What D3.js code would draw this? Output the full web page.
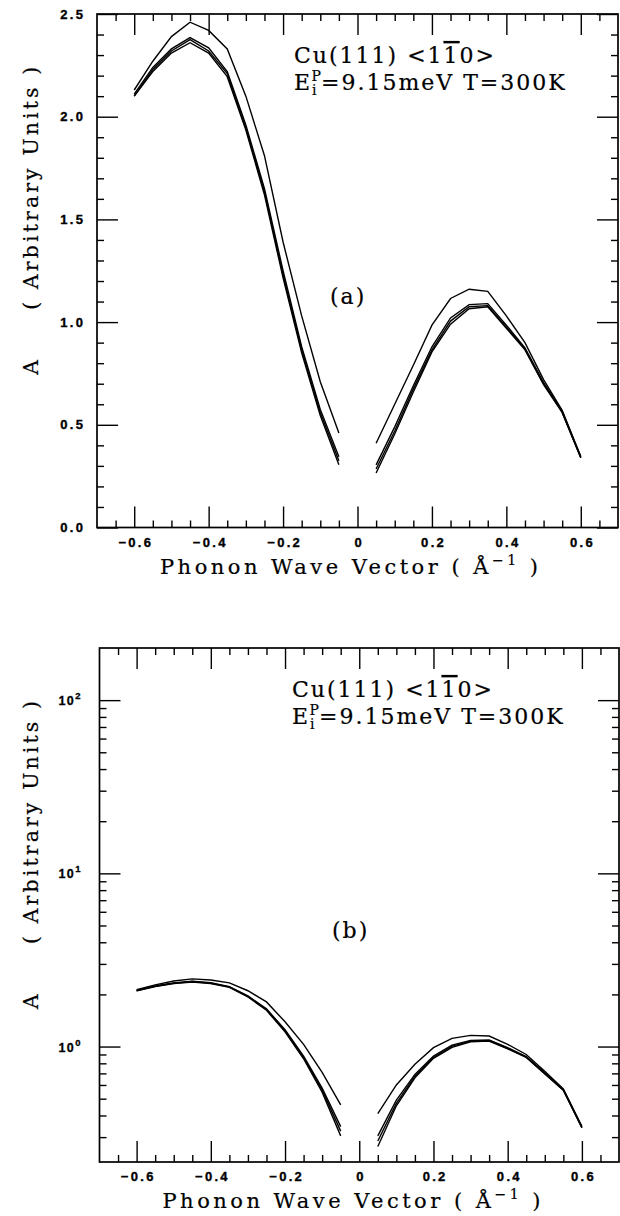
<!DOCTYPE html>
<html>
<head>
<meta charset="utf-8">
<script src="https://cdn.jsdelivr.net/npm/d3@7"></script>
<style>
  body { margin: 0; background: #fff; }
  svg { display: block; background: #fff; }
</style>
</head>
<body>
<svg id="chart" width="620" height="1216"></svg>
<script>
// phonon wave vector (1/A), both branches
var qLeft  = [-0.6, -0.55, -0.5, -0.45, -0.4, -0.35, -0.3, -0.25, -0.2, -0.15, -0.1, -0.05];
var qRight = [0.05, 0.1, 0.15, 0.2, 0.25, 0.3, 0.35, 0.4, 0.45, 0.5, 0.55, 0.6];

// amplitude A (arbitrary units): one upper curve, three nearly overlapping ones
var curve1Left  = [2.13, 2.27, 2.39, 2.46, 2.42, 2.33, 2.10, 1.81, 1.39, 1.03, 0.71, 0.46];
var curve2Left  = [2.11, 2.24, 2.33, 2.385, 2.335, 2.22, 1.96, 1.65, 1.25, 0.88, 0.575, 0.345];
var curve3Left  = [2.10, 2.23, 2.32, 2.375, 2.32, 2.21, 1.945, 1.635, 1.23, 0.865, 0.56, 0.325];
var curve4Left  = [2.10, 2.22, 2.31, 2.36, 2.31, 2.195, 1.935, 1.62, 1.215, 0.85, 0.545, 0.305];

var curve1Right = [0.41, 0.60, 0.79, 0.985, 1.115, 1.16, 1.15, 1.03, 0.90, 0.72, 0.57, 0.345];
var curve2Right = [0.305, 0.49, 0.69, 0.88, 1.02, 1.085, 1.09, 0.985, 0.875, 0.705, 0.565, 0.345];
var curve3Right = [0.285, 0.47, 0.675, 0.865, 1.005, 1.075, 1.08, 0.975, 0.87, 0.70, 0.56, 0.34];
var curve4Right = [0.265, 0.455, 0.66, 0.855, 0.99, 1.065, 1.075, 0.97, 0.865, 0.695, 0.56, 0.34];

var xMajor = [-0.6, -0.4, -0.2, 0, 0.2, 0.4, 0.6];
var xMinor = d3.range(-13, 14).map(i => i * 0.05);
var yMajorLin = [0, 0.5, 1, 1.5, 2, 2.5];
var yMinorLin = d3.range(0, 26).map(i => i / 10);
var yMajorLog = [1, 10, 100];
var yMinorLog = [0.3, 0.4, 0.5, 0.6, 0.7, 0.8, 0.9, 2, 3, 4, 5, 6, 7, 8, 9, 20, 30, 40, 50, 60, 70, 80, 90];

var svg = d3.select("#chart");
var serif = "'DejaVu Serif', serif";
var sans = "'Liberation Sans', Arial, sans-serif";
var tickLs = 2.3;

var curves = [
    [curve1Left, curve1Right],
    [curve2Left, curve2Right],
    [curve3Left, curve3Right],
    [curve4Left, curve4Right]
];

// stretch a text to a given visible width with letter spacing
function spread(sel, width) {
    var w = sel.node().getComputedTextLength();
    var n = sel.text().length;
    sel.attr("letter-spacing", ((width - w) / (n - 1)).toFixed(2));
}

function styleTicks(g) {
    g.select(".domain").remove();
    g.selectAll("line").attr("stroke", "#000").attr("stroke-width", 1.4);
    g.selectAll("text").attr("font-family", sans).attr("font-weight", "bold")
        .attr("font-size", 13).attr("letter-spacing", tickLs).attr("fill", "#000")
        .attr("stroke", "#000").attr("stroke-width", 0.35);
}

function drawPanel(x, y, isLog, label, txt) {
    var xl = x.range()[0], xr = x.range()[1];
    var yb = y.range()[0], yt = y.range()[1];
    var g = svg.append("g");
    var fmtX = d => d === 0 ? "0" : d3.format(".1f")(d);
    var minorX = xMinor.filter(v => !xMajor.some(m => Math.abs(m - v) < 1e-6));

    // bottom / top
    g.append("g").attr("transform", "translate(0," + yb + ")")
        .call(d3.axisBottom(x).tickValues(xMajor).tickSize(-21).tickPadding(10).tickFormat(fmtX))
        .call(styleTicks)
        .selectAll("text").attr("dx", tickLs / 2);
    g.append("g").attr("transform", "translate(0," + yb + ")")
        .call(d3.axisBottom(x).tickValues(minorX).tickSize(-7).tickFormat(""))
        .call(styleTicks);
    g.append("g").attr("transform", "translate(0," + yt + ")")
        .call(d3.axisTop(x).tickValues(xMajor).tickSize(-21).tickFormat(""))
        .call(styleTicks);
    g.append("g").attr("transform", "translate(0," + yt + ")")
        .call(d3.axisTop(x).tickValues(minorX).tickSize(-7).tickFormat(""))
        .call(styleTicks);

    // left / right
    var major = isLog ? yMajorLog : yMajorLin;
    var minor = isLog ? yMinorLog : yMinorLin.filter(v => !yMajorLin.some(m => Math.abs(m - v) < 1e-6));
    g.append("g").attr("transform", "translate(" + xl + ",0)")
        .call(d3.axisLeft(y).tickValues(major).tickSize(-21).tickPadding(14 - tickLs)
            .tickFormat(isLog ? "" : d3.format(".1f")))
        .call(styleTicks);
    g.append("g").attr("transform", "translate(" + xl + ",0)")
        .call(d3.axisLeft(y).tickValues(minor).tickSize(-7).tickFormat(""))
        .call(styleTicks);
    g.append("g").attr("transform", "translate(" + xr + ",0)")
        .call(d3.axisRight(y).tickValues(major).tickSize(-21).tickFormat(""))
        .call(styleTicks);
    g.append("g").attr("transform", "translate(" + xr + ",0)")
        .call(d3.axisRight(y).tickValues(minor).tickSize(-7).tickFormat(""))
        .call(styleTicks);

    if (isLog) {
        var lab = g.append("g").selectAll("text").data(major).join("text")
            .attr("x", xl - 30).attr("y", d => y(d) + 5)
            .attr("font-family", sans).attr("font-weight", "bold").attr("font-size", 12.5)
            .attr("stroke", "#000").attr("stroke-width", 0.3)
            .attr("letter-spacing", 1.5).attr("text-anchor", "middle");
        lab.append("tspan").text("10");
        lab.append("tspan").attr("dy", -6).attr("font-size", 9.5).attr("letter-spacing", 0)
            .text(d => Math.round(Math.log10(d)));
    }

    // frame
    g.append("rect").attr("x", xl).attr("y", yt).attr("width", xr - xl).attr("height", yb - yt)
        .attr("fill", "none").attr("stroke", "#000").attr("stroke-width", 1.7);

    // curves
    var line = d3.line().x(d => x(d[0])).y(d => y(d[1]));
    curves.forEach(c => {
        g.append("path").datum(qLeft.map((q, i) => [q, c[0][i]]))
            .attr("d", line).attr("fill", "none").attr("stroke", "#000").attr("stroke-width", 1.4);
        g.append("path").datum(qRight.map((q, i) => [q, c[1][i]]))
            .attr("d", line).attr("fill", "none").attr("stroke", "#000").attr("stroke-width", 1.4);
    });

    // annotation
    var t1 = g.append("text").attr("x", txt[0]).attr("y", yt + 49)
        .attr("font-family", serif).attr("font-size", 22).attr("letter-spacing", 2)
        .attr("stroke", "#000").attr("stroke-width", 0.2);
    t1.append("tspan").text("Cu(111) <1");
    t1.append("tspan").style("text-decoration", "overline").text("1");
    t1.append("tspan").text("0>");

    var t2 = g.append("text").attr("x", txt[0]).attr("y", yt + 76)
        .attr("font-family", serif).attr("font-size", 22).attr("letter-spacing", 2)
        .attr("stroke", "#000").attr("stroke-width", 0.2);
    t2.append("tspan").text("E");
    t2.append("tspan").attr("font-size", 14).attr("letter-spacing", 0).attr("dy", 5).text("i");
    t2.append("tspan").attr("font-size", 14).attr("letter-spacing", 0).attr("dx", -5).attr("dy", -14).text("P");
    t2.append("tspan").attr("dy", 9).attr("dx", 0).text("=9.15meV T=300K");

    g.append("text").attr("x", txt[1]).attr("y", yt + 290)
        .attr("font-family", serif).attr("font-size", 22).attr("letter-spacing", 2)
        .attr("stroke", "#000").attr("stroke-width", 0.2)
        .text(label);

    // axis titles
    var xt = g.append("text").attr("x", xl + 63).attr("y", yb + 46)
        .attr("font-family", serif).attr("font-size", 21)
        .attr("stroke", "#000").attr("stroke-width", 0.2);
    xt.append("tspan").text("Phonon Wave Vector ( Å");
    xt.append("tspan").attr("font-size", 14).attr("dy", -9).text("−1");
    xt.append("tspan").attr("dy", 9).text(" )");
    spread(xt, 378);

    var cy = (yt + yb) / 2;
    g.append("text").attr("transform", "translate(38," + (cy + 104) + ") rotate(-90)")
        .attr("font-family", serif).attr("font-size", 20.5)
        .attr("stroke", "#000").attr("stroke-width", 0.2).text("A");
    var yt2 = g.append("text").attr("transform", "translate(38," + (cy + 39) + ") rotate(-90)")
        .attr("font-family", serif).attr("font-size", 20.5)
        .attr("stroke", "#000").attr("stroke-width", 0.2).text("( Arbitrary Units )");
    spread(yt2, 243);
}

var xA = d3.scaleLinear().domain([-0.7, 0.7]).range([97, 618]);
var yA = d3.scaleLinear().domain([0, 2.5]).range([527.5, 14]);
drawPanel(xA, yA, false, "(a)", [294, 330]);

var xB = d3.scaleLinear().domain([-0.7, 0.7]).range([99.5, 619]);
var yB = d3.scaleLog().domain([0.2155, 200]).range([1162, 648]);
drawPanel(xB, yB, true, "(b)", [292, 332]);
</script>
</body>
</html>
